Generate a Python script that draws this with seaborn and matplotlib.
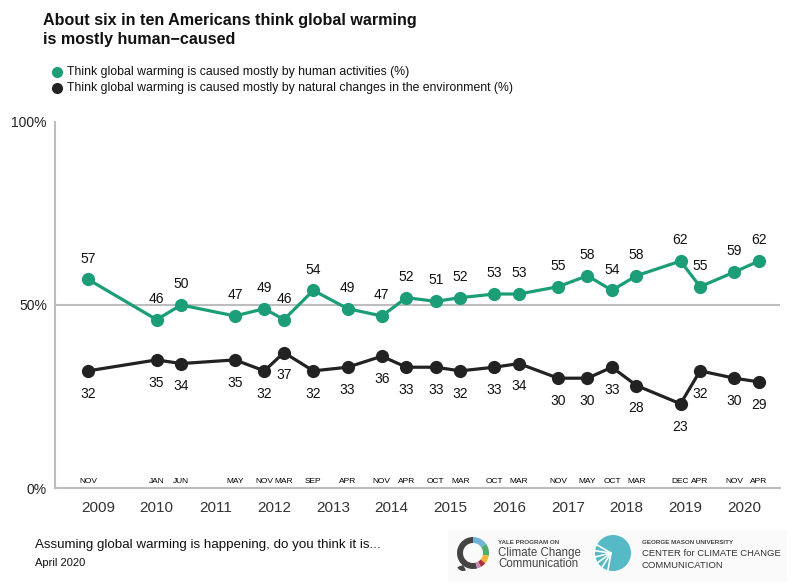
import numpy as np
import pandas as pd
import matplotlib
matplotlib.use("Agg")
import matplotlib.pyplot as plt
from matplotlib.patches import Wedge, Circle, Rectangle
from matplotlib.lines import Line2D
import seaborn as sns

# survey waves
survey_year = [2008, 2010, 2010, 2011, 2011, 2012, 2012, 2013, 2013, 2014, 2014,
               2015, 2015, 2016, 2016, 2017, 2017, 2018, 2018, 2019, 2019, 2020]
survey_month = [11, 1, 6, 5, 11, 3, 9, 4, 11, 4, 10,
                3, 10, 3, 11, 5, 10, 3, 12, 4, 11, 4]
month_labels = ["NOV", "JAN", "JUN", "MAY", "NOV", "MAR", "SEP", "APR", "NOV", "APR", "OCT",
                "MAR", "OCT", "MAR", "NOV", "MAY", "OCT", "MAR", "DEC", "APR", "NOV", "APR"]

# percent of Americans
human_caused = [57, 46, 50, 47, 49, 46, 54, 49, 47, 52, 51,
                52, 53, 53, 55, 58, 54, 58, 62, 55, 59, 62]
natural_changes = [32, 35, 34, 35, 32, 37, 32, 33, 36, 33, 33,
                   32, 33, 34, 30, 30, 33, 28, 23, 32, 30, 29]

year_ticks = list(range(2009, 2021))
pct_ticks = [0, 50, 100]
series_names = ["Think global warming is caused mostly by human activities (%)",
                "Think global warming is caused mostly by natural changes in the environment (%)"]

GREEN = "#1b9e77"
DARK = "#222222"
GRID = "#bdbdbd"

sns.set_style("white")
plt.rcParams["font.family"] = ["Liberation Sans", "DejaVu Sans"]

x_pos = np.array(survey_year) + (np.array(survey_month) - 1) / 12
df = pd.DataFrame({
    "x": np.concatenate([x_pos, x_pos]),
    "pct": human_caused + natural_changes,
    "series": [series_names[0]] * len(x_pos) + [series_names[1]] * len(x_pos),
})

fig = plt.figure(figsize=(8, 5.85), dpi=100)
ax = fig.add_axes([0.06875, 0.1658, 0.90625, 0.6257])

sns.lineplot(data=df, x="x", y="pct", hue="series", palette=[GREEN, DARK],
             marker="o", markersize=9.5, markeredgewidth=0, linewidth=2.3,
             legend=False, ax=ax)

ax.set_xlim(2008.27, 2020.61)
ax.set_ylim(0, 100)
ax.set_xlabel("")
ax.set_ylabel("")
ax.axhline(50, color=GRID, lw=1.5, zorder=0)

for s in ["top", "right"]:
    ax.spines[s].set_visible(False)
for s in ["left", "bottom"]:
    ax.spines[s].set_color(GRID)
    ax.spines[s].set_linewidth(1.5)

ax.set_yticks(pct_ticks)
ax.set_yticklabels([f"{v}%" for v in pct_ticks], fontsize=10, color="#222")
ax.tick_params(axis="y", length=0, pad=5.8)
ax.set_xticks(year_ticks)
ax.set_xticklabels([str(y) for y in year_ticks], fontsize=11, color="#333")
ax.tick_params(axis="x", length=3.5, width=1.5, color="#333", pad=6, direction="out")

# value labels
for xv, h, n, m in zip(x_pos, human_caused, natural_changes, month_labels):
    ax.annotate(str(h), (xv, h), xytext=(0, 15), textcoords="offset points",
                ha="center", va="center", fontsize=10, color="#111")
    ax.annotate(str(n), (xv, n), xytext=(0, -16.5), textcoords="offset points",
                ha="center", va="center", fontsize=10, color="#111")
    ax.annotate(m, (xv, 0), xytext=(0, 2), textcoords="offset points",
                ha="center", va="bottom", fontsize=6, color="#000")

# title
fig.text(0.054, 1 - 25 / 585, "About six in ten Americans think global warming",
         ha="left", va="baseline", fontsize=11.6, fontweight="bold", color="#111")
fig.text(0.054, 1 - 44 / 585, "is mostly human\u2212caused",
         ha="left", va="baseline", fontsize=11.6, fontweight="bold", color="#111")

# legend
for i, (name, col) in enumerate(zip(series_names, [GREEN, DARK])):
    yy = 1 - (72 + 16 * i) / 585
    fig.add_artist(Line2D([57 / 800], [yy], marker="o", markersize=8, color=col,
                          markeredgewidth=0, transform=fig.transFigure))
    fig.text(67 / 800, yy, name, ha="left", va="center", fontsize=8.8, color="#111")

# footer
fig.text(35 / 800, 1 - 545 / 585, "Assuming global warming is happening, do you think it is...",
         ha="left", va="center", fontsize=9.6, color="#111")
fig.text(35 / 800, 1 - 563 / 585, "April 2020", ha="left", va="center", fontsize=8, color="#111")

# logos
deco = fig.add_axes([0, 0, 1, 1], zorder=-1)
deco.set_xlim(0, 800)
deco.set_ylim(0, 585)
deco.axis("off")
deco.add_patch(Rectangle((448, 585 - 582), 339, 52, color="#fafafa", lw=0))
cx, cy = 473, 585 - 553
ring = [(90, 285, "#444444"), (35, 90, "#6db6d9"), (-10, 35, "#4daf6a"),
        (-40, -10, "#f2b632"), (-60, -40, "#a8323e"), (-75, -60, "#c38db3")]
for t1, t2, c in ring:
    deco.add_patch(Wedge((cx, cy), 16, t1, t2, width=6, color=c, lw=0))
deco.add_patch(Wedge((cx - 10, cy - 12), 6, 200, 300, color="#444444", lw=0))
fig.text(498 / 800, 1 - 542 / 585, "YALE PROGRAM ON", fontsize=4.5, fontweight="bold",
         color="#444", ha="left", va="center")
fig.text(498 / 800, 1 - 553 / 585, "Climate Change", fontsize=8.3, color="#444",
         ha="left", va="center")
fig.text(498 / 800, 1 - 564 / 585, "Communication", fontsize=8.3, color="#444",
         ha="left", va="center")

gx, gy = 613, 585 - 553
deco.add_patch(Circle((gx, gy), 18, color="#55bac5", lw=0))
for ang in np.linspace(150, 260, 6):
    r = np.deg2rad(ang)
    deco.plot([gx - 2, gx - 2 + 20 * np.cos(r)], [gy, gy + 20 * np.sin(r)],
              color="white", lw=1.2)
fig.text(642 / 800, 1 - 542 / 585, "GEORGE MASON UNIVERSITY", fontsize=4.5, fontweight="bold",
         color="#444", ha="left", va="center")
fig.text(642 / 800, 1 - 554 / 585, "CENTER for CLIMATE CHANGE", fontsize=6.8,
         color="#333", ha="left", va="center")
fig.text(642 / 800, 1 - 566 / 585, "COMMUNICATION", fontsize=6.8, color="#333",
         ha="left", va="center")

fig.savefig("out.png", dpi=100)
